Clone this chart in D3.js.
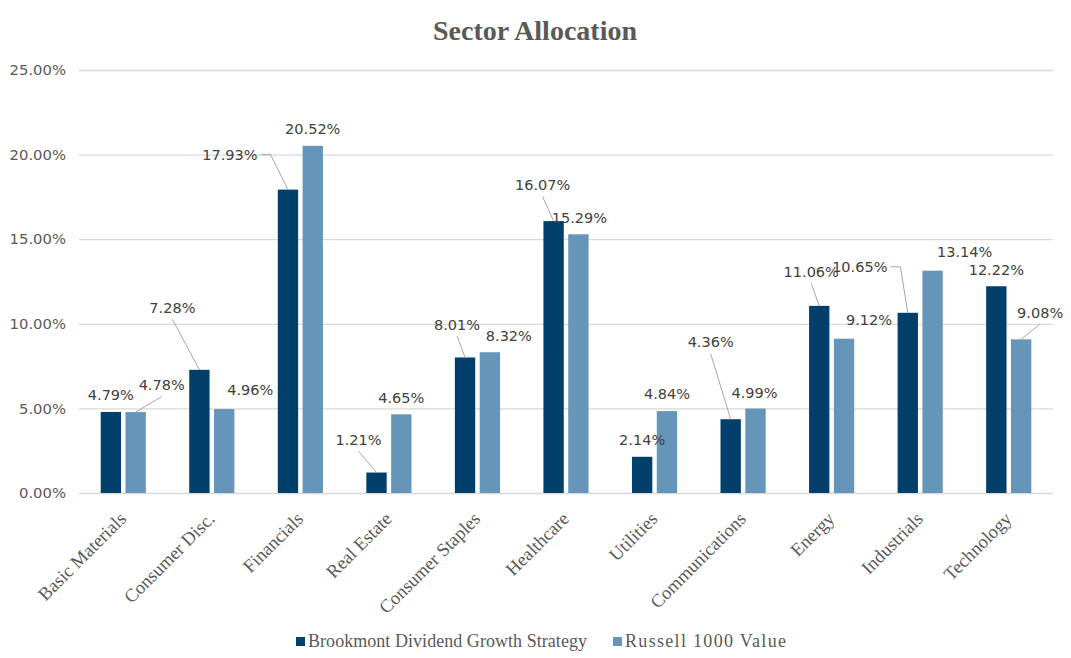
<!DOCTYPE html>
<html>
<head>
<meta charset="utf-8">
<script src="https://cdn.jsdelivr.net/npm/d3@7"></script>
<style>
  html, body { margin: 0; padding: 0; background: #fff; }
  svg { display: block; }
  text { font-family: "Liberation Serif", "Times New Roman", serif; }
  text.dlabel, .yaxis text { font-family: "DejaVu Sans", Verdana, sans-serif; }
</style>
</head>
<body>
<svg id="chart" width="1071" height="658"></svg>
<script>
// ---- data ----
const categories = ["Basic Materials", "Consumer Disc.", "Financials", "Real Estate", "Consumer Staples",
  "Healthcare", "Utilities", "Communications", "Energy", "Industrials", "Technology"];
const seriesNames = ["Brookmont Dividend Growth Strategy", "Russell 1000 Value"];
const brookmont = [4.79, 7.28, 17.93, 1.21, 8.01, 16.07, 2.14, 4.36, 11.06, 10.65, 12.22];
const russell = [4.78, 4.96, 20.52, 4.65, 8.32, 15.29, 4.84, 4.99, 9.12, 13.14, 9.08];
const yTicks = [0, 5, 10, 15, 20, 25];

// ---- label layout (offset of label centre from bar top centre, and leader style) ----
const brookmontLabelLayout = [
  [0, -17, "none"], [-27, -62, "bottom"], [-58, -35, "elbow"], [-18, -33, "bottom"],
  [-8, -33, "bottom"], [-11, -36, "bottom"], [0, -17, "none"], [-20, -77, "bottom"],
  [-8, -34, "bottom"], [-48, -46, "elbow"], [0, -16, "none"]
];
const russellLabelLayout = [
  [26, -27, "bottom"], [26, -19, "none"], [0, -17, "none"], [0, -17, "none"],
  [19, -16, "none"], [1, -17, "none"], [0, -17, "none"], [-1, -16, "none"],
  [25, -19, "none"], [32, -19, "none"], [19, -27, "bottom"]
];

const colors = ["#02406b", "#6595b8"];

const svg = d3.select("#chart");
const plot = { left: 79, right: 1053, top: 70, bottom: 493 };

const x0 = d3.scaleBand().domain(categories).range([plot.left, plot.right])
  .paddingInner(0.49).paddingOuter(0.245);
const x1 = d3.scaleBand().domain([0, 1]).range([0, x0.bandwidth()]).paddingInner(0.18);
const y = d3.scaleLinear().domain([0, 25]).range([plot.bottom, plot.top]);

// title
svg.append("text").attr("x", 535).attr("y", 40).attr("text-anchor", "middle")
  .attr("font-size", 28).attr("font-weight", "bold").attr("fill", "#595959")
  .text("Sector Allocation");

// gridlines + y axis
const yAxis = d3.axisLeft(y).tickValues(yTicks).tickSize(-(plot.right - plot.left))
  .tickPadding(13).tickFormat(d => d.toFixed(2) + "%");
const gy = svg.append("g").attr("class", "yaxis").attr("transform", `translate(${plot.left},0)`).call(yAxis);
gy.select(".domain").remove();
gy.selectAll(".tick line").attr("stroke", "#d9d9d9").attr("stroke-width", 1.3);
gy.selectAll(".tick text").attr("font-size", 14.8).attr("fill", "#595959");

// bars
const series = [brookmont, russell];
series.forEach((vals, s) => {
  svg.append("g").selectAll("rect").data(vals).join("rect")
    .attr("x", (d, i) => x0(categories[i]) + x1(s))
    .attr("y", d => y(d))
    .attr("width", x1.bandwidth())
    .attr("height", d => y(0) - y(d))
    .attr("fill", colors[s]);
});

// data labels
const layouts = [brookmontLabelLayout, russellLabelLayout];
const labelFont = 14.5;
series.forEach((vals, s) => {
  const g = svg.append("g");
  vals.forEach((v, i) => {
    const bx = x0(categories[i]) + x1(s) + x1.bandwidth() / 2;
    const by = y(v);
    const [dx, dy, leader] = layouts[s][i];
    const lx = bx + dx, ly = by + dy;
    const t = g.append("text").attr("class", "dlabel").attr("x", lx).attr("y", ly).attr("dy", "0.36em")
      .attr("text-anchor", "middle").attr("font-size", labelFont).attr("fill", "#404040")
      .text(v.toFixed(2) + "%");
    const w = t.node().getComputedTextLength();
    if (leader === "bottom") {
      g.append("path")
        .attr("d", `M${lx},${ly + 11.5}L${bx},${by}`)
        .attr("stroke", "#a6a6a6").attr("stroke-width", 1).attr("fill", "none");
    } else if (leader === "elbow") {
      const sx = lx + w / 2 + 3;
      g.append("path")
        .attr("d", `M${sx},${ly}L${sx + 10},${ly}L${bx},${by}`)
        .attr("stroke", "#a6a6a6").attr("stroke-width", 1).attr("fill", "none");
    }
  });
});

// category labels
svg.append("g").selectAll("text").data(categories).join("text")
  .attr("transform", d => `translate(${x0(d) + x0.bandwidth() / 2 + 4},${plot.bottom + 27}) rotate(-45)`)
  .attr("text-anchor", "end").attr("font-size", 18.5).attr("fill", "#595959")
  .text(d => d);

// legend
const legendItems = [{ name: seriesNames[0], x: 296, w: 279 }, { name: seriesNames[1], x: 613, w: 161 }];
legendItems.forEach((it, i) => {
  svg.append("rect").attr("x", it.x).attr("y", 637).attr("width", 9).attr("height", 9).attr("fill", colors[i]);
  svg.append("text").attr("x", it.x + 12).attr("y", 647).attr("font-size", 18).attr("fill", "#595959")
    .attr("textLength", it.w).attr("lengthAdjust", "spacing")
    .text(it.name);
});
</script>
</body>
</html>
